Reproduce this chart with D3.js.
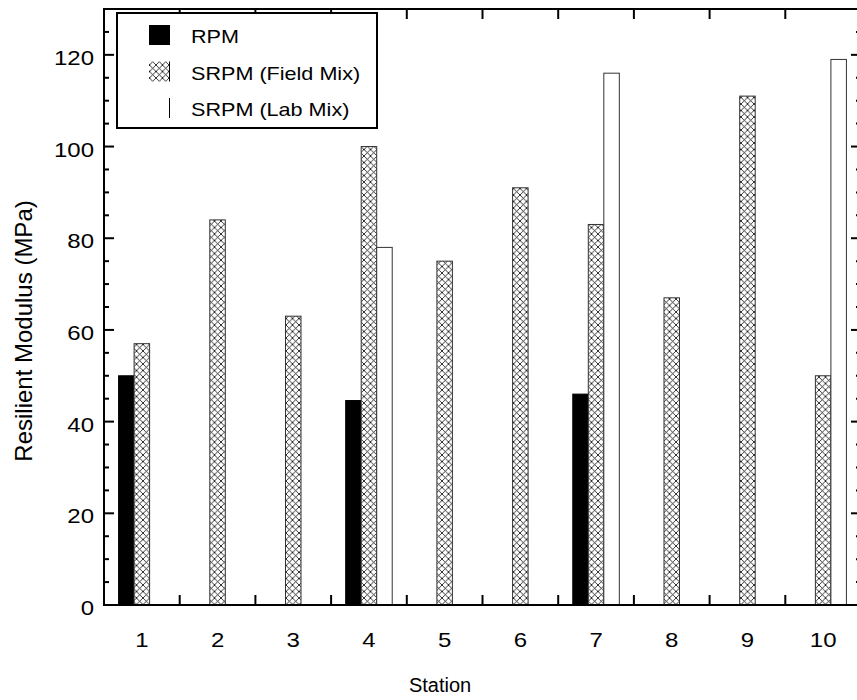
<!DOCTYPE html>
<html>
<head>
<meta charset="utf-8">
<script src="https://cdn.jsdelivr.net/npm/d3@7"></script>
<style>
  body { margin: 0; background: #fff; }
  text { font-family: "Liberation Sans", Arial, sans-serif; fill: #000; }
</style>
</head>
<body>
<svg width="857" height="700"></svg>
<script>
// data
const stations = ["1", "2", "3", "4", "5", "6", "7", "8", "9", "10"];
const seriesNames = ["RPM", "SRPM (Field Mix)", "SRPM (Lab Mix)"];
const rpm = [50, null, null, 44.6, null, null, 46, null, null, null];
const fieldMix = [57, 84, 63, 100, 75, 91, 83, 67, 111, 50];
const labMix = [null, null, null, 78, null, null, 116, null, null, 119];
const yTicks = [0, 20, 40, 60, 80, 100, 120];
const yMinor = d3.range(5, 130, 5).filter((v) => v % 20 !== 0);

const margin = { left: 104, right: 861, top: 9, bottom: 605 };
const sx = 1.2; // text in the picture is drawn a little wide

const svg = d3.select("svg");
svg.append("rect").attr("width", 857).attr("height", 700).attr("fill", "#fff");

const defs = svg.append("defs");
const pat = defs
  .append("pattern")
  .attr("id", "xhatch")
  .attr("patternUnits", "userSpaceOnUse")
  .attr("width", 6.5)
  .attr("height", 6.5);
pat.append("rect").attr("width", 6.5).attr("height", 6.5).attr("fill", "#fff");
pat
  .append("path")
  .attr("d", "M0,0L6.5,6.5M6.5,0L0,6.5")
  .attr("stroke", "#000")
  .attr("stroke-width", 0.8);

const x = d3.scaleBand().domain(stations).range([margin.left, margin.right]).padding(0);
const xSub = d3
  .scaleBand()
  .domain(seriesNames)
  .range([0, x.bandwidth()])
  .paddingInner(0)
  .paddingOuter(0.94);
const y = d3.scaleLinear().domain([0, 130]).range([margin.bottom, margin.top]);

const fills = ["#000", "url(#xhatch)", "#fff"];
const series = [rpm, fieldMix, labMix];

const rows = [];
stations.forEach((s, i) => {
  series.forEach((arr, k) => {
    if (arr[i] != null) rows.push({ station: s, name: seriesNames[k], k, value: arr[i] });
  });
});

svg
  .append("g")
  .selectAll("rect")
  .data(rows)
  .enter()
  .append("rect")
  .attr("x", (d) => x(d.station) + xSub(d.name))
  .attr("width", xSub.bandwidth())
  .attr("y", (d) => y(d.value))
  .attr("height", (d) => y(0) - y(d.value))
  .attr("fill", (d) => fills[d.k])
  .attr("stroke", (d) => (d.k === 0 ? "#000" : "#333"))
  .attr("stroke-width", 1);

// frame
svg
  .append("rect")
  .attr("x", margin.left)
  .attr("y", margin.top)
  .attr("width", margin.right - margin.left)
  .attr("height", margin.bottom - margin.top)
  .attr("fill", "none")
  .attr("stroke", "#000")
  .attr("stroke-width", 2);

// y ticks, inward on both sides
const tickG = svg.append("g").attr("stroke", "#000").attr("stroke-width", 2);
const yTickLines = (vals, len) => {
  vals.forEach((v) => {
    tickG.append("line").attr("x1", margin.left).attr("x2", margin.left + len).attr("y1", y(v)).attr("y2", y(v));
    tickG.append("line").attr("x1", margin.right).attr("x2", margin.right - len).attr("y1", y(v)).attr("y2", y(v));
  });
};
yTickLines(yTicks, 10);
yTickLines(yMinor, 5);

// x boundary ticks, top and bottom
stations.slice(1).forEach((s) => {
  tickG.append("line").attr("x1", x(s)).attr("x2", x(s)).attr("y1", margin.bottom).attr("y2", margin.bottom - 10);
  tickG.append("line").attr("x1", x(s)).attr("x2", x(s)).attr("y1", margin.top).attr("y2", margin.top + 10);
});

const label = (g, px, py, txt, size, anchor, scaleX, rot) =>
  g
    .append("text")
    .attr("transform", `translate(${px},${py}) scale(${scaleX},1)` + (rot ? ` rotate(${rot})` : ""))
    .attr("text-anchor", anchor)
    .attr("font-size", size)
    .text(txt);

const labels = svg.append("g");
yTicks.forEach((v) => label(labels, 94, y(v) + 10, v, 20, "end", sx));
stations.forEach((s) => label(labels, x(s) + x.bandwidth() / 2, 647, s, 20, "middle", sx));

label(labels, 440, 692, "Station", 20, "middle", 1);
label(labels, 32, 331, "Resilient Modulus (MPa)", 24, "middle", 1, -90);

// legend
const leg = svg.append("g");
leg
  .append("rect")
  .attr("x", 117)
  .attr("y", 13)
  .attr("width", 260)
  .attr("height", 115)
  .attr("fill", "#fff")
  .attr("stroke", "#000")
  .attr("stroke-width", 2);
seriesNames.forEach((n, k) => {
  const cy = 35 + k * 36.5;
  leg
    .append("rect")
    .attr("x", 149)
    .attr("y", cy - 10)
    .attr("width", 21)
    .attr("height", 20)
    .attr("fill", fills[k]);
  if (k > 0) {
    leg.append("line").attr("x1", 169.5).attr("x2", 169.5).attr("y1", cy - 10).attr("y2", cy + 10)
      .attr("stroke", "#000").attr("stroke-width", 1);
  }
  label(leg, 191, cy + 8, n, 18, "start", sx);
});
</script>
</body>
</html>
